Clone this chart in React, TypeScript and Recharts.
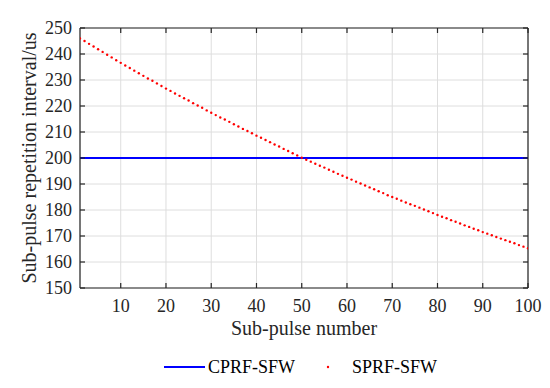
import { LineChart, Line, XAxis, YAxis, CartesianGrid } from "recharts";

// sub-pulse index (x)
const subPulse = [
  1, 2, 3, 4, 5, 6, 7, 8, 9, 10, 11, 12, 13, 14, 15, 16, 17, 18, 19, 20,
  21, 22, 23, 24, 25, 26, 27, 28, 29, 30, 31, 32, 33, 34, 35, 36, 37, 38, 39, 40,
  41, 42, 43, 44, 45, 46, 47, 48, 49, 50, 51, 52, 53, 54, 55, 56, 57, 58, 59, 60,
  61, 62, 63, 64, 65, 66, 67, 68, 69, 70, 71, 72, 73, 74, 75, 76, 77, 78, 79, 80,
  81, 82, 83, 84, 85, 86, 87, 88, 89, 90, 91, 92, 93, 94, 95, 96, 97, 98, 99, 100,
];

// SPRF-SFW repetition interval (us)
const sprf = [
  246.0, 245.0, 243.9, 242.9, 241.8, 240.8, 239.7, 238.7, 237.6, 236.6,
  235.6, 234.6, 233.6, 232.6, 231.6, 230.6, 229.7, 228.7, 227.7, 226.7,
  225.8, 224.8, 223.9, 223.0, 222.1, 221.1, 220.2, 219.3, 218.3, 217.4,
  216.5, 215.6, 214.8, 213.9, 213.0, 212.1, 211.2, 210.4, 209.5, 208.6,
  207.8, 206.9, 206.1, 205.2, 204.4, 203.5, 202.7, 201.8, 201.0, 200.1,
  199.3, 198.6, 197.8, 197.0, 196.3, 195.5, 194.7, 193.9, 193.2, 192.4,
  191.7, 190.9, 190.2, 189.4, 188.7, 188.0, 187.2, 186.5, 185.7, 185.0,
  184.3, 183.6, 182.9, 182.2, 181.6, 180.9, 180.2, 179.5, 178.8, 178.1,
  177.4, 176.8, 176.1, 175.5, 174.8, 174.1, 173.5, 172.8, 172.2, 171.5,
  170.9, 170.3, 169.6, 169.0, 168.4, 167.8, 167.2, 166.5, 165.9, 165.3,
];

// CPRF-SFW is constant
const cprfX = [1, 100];
const cprfY = [200, 200];

const xTicks = [10, 20, 30, 40, 50, 60, 70, 80, 90, 100];
const yTicks = [150, 160, 170, 180, 190, 200, 210, 220, 230, 240, 250];

const sprfData = subPulse.map((n, i) => ({ n, sprf: sprf[i] }));
const cprfData = cprfX.map((n, i) => ({ n, cprf: cprfY[i] }));

const FONT = "'Liberation Serif', 'Times New Roman', serif";
const AXIS = "#262626";
const TICK_LEN = 5;
const txt = { fontFamily: FONT, fontSize: 18 };

// MATLAB-style box: ticks point inward on all four sides
const bottomTick = (props: any) => {
  const { x, y, payload } = props;
  return (
    <g>
      <line x1={x} x2={x} y1={y} y2={y - TICK_LEN} stroke={AXIS} strokeWidth={1.2} />
      <text x={x} y={y + 24} textAnchor="middle" fill={AXIS} style={txt}>
        {payload.value}
      </text>
    </g>
  );
};

const topTick = (props: any) => {
  const { x, y } = props;
  return <line x1={x} x2={x} y1={y} y2={y + TICK_LEN} stroke={AXIS} strokeWidth={1.2} />;
};

const leftTick = (props: any) => {
  const { x, y, payload } = props;
  return (
    <g>
      <line x1={x} x2={x + TICK_LEN} y1={y} y2={y} stroke={AXIS} strokeWidth={1.2} />
      <text x={x - 8} y={y} dy="0.35em" textAnchor="end" fill={AXIS} style={txt}>
        {payload.value}
      </text>
    </g>
  );
};

const rightTick = (props: any) => {
  const { x, y } = props;
  return <line x1={x} x2={x - TICK_LEN} y1={y} y2={y} stroke={AXIS} strokeWidth={1.2} />;
};

export default function App() {
  return (
    <div style={{ position: "absolute", left: 0, top: 0, width: 550, height: 388, background: "#fff" }}>
      <LineChart width={550} height={388} margin={{ top: 27, right: 21, left: 0, bottom: 40 }}>
        <CartesianGrid stroke="#dedede" strokeWidth={1} />
        <XAxis
          dataKey="n"
          type="number"
          domain={[1, 100]}
          ticks={xTicks}
          allowDataOverflow
          height={60}
          stroke={AXIS}
          strokeWidth={1.2}
          tickLine={false}
          tickSize={0}
          tickMargin={0}
          tick={bottomTick}
          label={{
            value: "Sub-pulse number",
            position: "insideBottom",
            offset: 13,
            fill: AXIS,
            fontSize: 20,
            fontFamily: FONT,
          }}
        />
        <XAxis
          xAxisId="top"
          orientation="top"
          dataKey="n"
          type="number"
          domain={[1, 100]}
          ticks={xTicks}
          allowDataOverflow
          height={1}
          stroke={AXIS}
          strokeWidth={1.2}
          tickLine={false}
          tickSize={0}
          tickMargin={0}
          tick={topTick}
        />
        <YAxis
          type="number"
          domain={[150, 250]}
          ticks={yTicks}
          allowDataOverflow
          width={80}
          stroke={AXIS}
          strokeWidth={1.2}
          tickLine={false}
          tickSize={0}
          tickMargin={0}
          tick={leftTick}
          label={{
            value: "Sub-pulse repetition interval/us",
            angle: -90,
            position: "insideLeft",
            offset: 29,
            fill: AXIS,
            fontSize: 20,
            fontFamily: FONT,
            style: { textAnchor: "middle" },
          }}
        />
        <YAxis
          yAxisId="right"
          orientation="right"
          type="number"
          domain={[150, 250]}
          ticks={yTicks}
          allowDataOverflow
          width={1}
          stroke={AXIS}
          strokeWidth={1.2}
          tickLine={false}
          tickSize={0}
          tickMargin={0}
          tick={rightTick}
        />
        {/* invisible series so the top/right frame axes get drawn */}
        <Line
          data={sprfData}
          dataKey="sprf"
          xAxisId="top"
          yAxisId="right"
          stroke="none"
          dot={false}
          activeDot={false}
          legendType="none"
          isAnimationActive={false}
        />
        <Line
          data={cprfData}
          dataKey="cprf"
          type="linear"
          stroke="#0000ff"
          strokeWidth={2}
          dot={false}
          isAnimationActive={false}
        />
        <Line
          data={sprfData}
          dataKey="sprf"
          type="linear"
          stroke="none"
          dot={{ r: 1.2, fill: "#ff0000", stroke: "none" }}
          isAnimationActive={false}
        />
      </LineChart>
      <svg width={550} height={388} style={{ position: "absolute", left: 0, top: 0, pointerEvents: "none" }}>
        <line x1={164} x2={205} y1={367} y2={367} stroke="#0000ff" strokeWidth={2} />
        <text x={208} y={373} style={txt} fill="#000">
          CPRF-SFW
        </text>
        <circle cx={328} cy={367} r={1.2} fill="#ff0000" />
        <text x={352} y={373} style={txt} fill="#000">
          SPRF-SFW
        </text>
      </svg>
    </div>
  );
}
